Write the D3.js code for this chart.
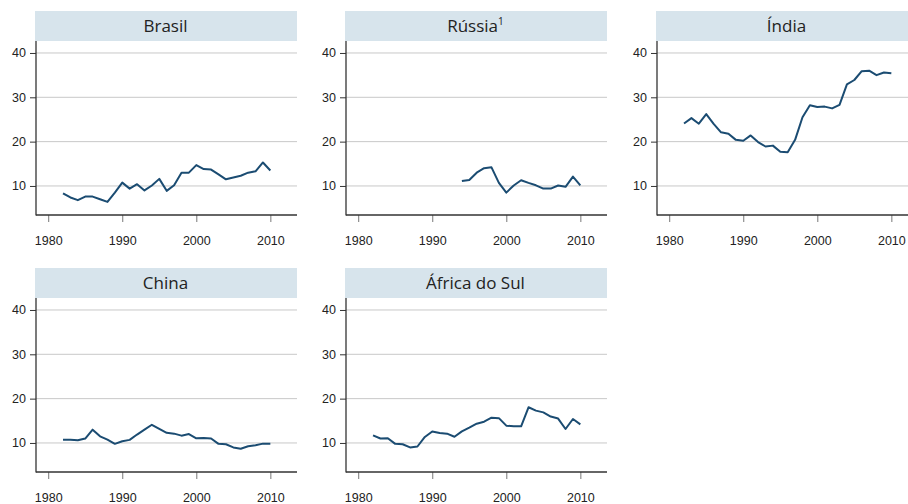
<!DOCTYPE html>
<html>
<head>
<meta charset="utf-8">
<script src="https://cdnjs.cloudflare.com/ajax/libs/d3/7.8.5/d3.min.js"></script>
<style>
  body { margin: 0; background: #fff; }
  svg { display: block; font-family: "Open Sans", "Noto Sans", sans-serif; }
</style>
</head>
<body>
<svg id="chart" width="908" height="504"></svg>
<script>
// values, one per year from the first year
var brasil = [8.35, 7.4, 6.8, 7.6, 7.6, 7.0, 6.4, 8.5, 10.75, 9.4, 10.4, 9.0, 10.1, 11.6, 8.9, 10.15,
  13.0, 13.0, 14.7, 13.8, 13.7, 12.6, 11.5, 11.9, 12.3, 13.0, 13.3, 15.3, 13.5];
var russia = [11.1, 11.35, 13.0, 14.0, 14.2, 10.7, 8.5, 10.1, 11.3, 10.7, 10.15, 9.4, 9.4, 10.1, 9.8, 12.1, 10.15];
var india = [24.1, 25.3, 24.05, 26.2, 24.0, 22.1, 21.8, 20.4, 20.2, 21.4, 19.9, 18.9, 19.1, 17.7, 17.6, 20.4,
  25.5, 28.2, 27.8, 27.9, 27.5, 28.3, 32.9, 33.9, 35.9, 36.0, 35.0, 35.6, 35.4];
var china = [10.75, 10.75, 10.6, 11.0, 13.0, 11.5, 10.75, 9.8, 10.4, 10.7, 11.9, 13.0, 14.1, 13.2, 12.3, 12.1,
  11.65, 12.0, 11.05, 11.1, 11.0, 9.8, 9.7, 9.0, 8.7, 9.25, 9.5, 9.85, 9.85];
var africaDoSul = [11.7, 11.0, 11.05, 9.8, 9.7, 9.0, 9.2, 11.35, 12.6, 12.25, 12.1, 11.4, 12.6, 13.45, 14.35, 14.8,
  15.7, 15.6, 13.9, 13.75, 13.75, 18.05, 17.3, 16.9, 15.95, 15.5, 13.15, 15.4, 14.2];

var countries = ['Brasil', 'Rússia', 'Índia', 'China', 'África do Sul'];
var firstYears = [1982, 1994, 1982, 1982, 1982];
var series = [brasil, russia, india, china, africaDoSul];
var notes = ['', '1', '', '', ''];

var xTicks = [1980, 1990, 2000, 2010];
var yTicks = [10, 20, 30, 40];

var svg = d3.select('#chart');

var colX = [36, 346, 657],
    rowY = [0, 257],
    plotW = 261,
    headTop = 11,
    plotTop = 41,
    plotBottom = 215;

var x = d3.scaleLinear().domain([1978.35, 2013.6]).range([0, plotW]);
var y = d3.scaleLinear().domain([3.45, 42.7]).range([plotBottom, plotTop]);

var line = d3.line()
  .x(function(d){ return x(d.year); })
  .y(function(d){ return y(d.value); });

countries.forEach(function(name, i){
  var g = svg.append('g')
    .attr('transform', 'translate(' + colX[i % 3] + ',' + rowY[Math.floor(i / 3)] + ')');

  // header box
  g.append('rect')
    .attr('x', -1).attr('y', headTop)
    .attr('width', plotW + 1).attr('height', plotTop - headTop)
    .attr('fill', '#d7e4ec');

  var title = g.append('text')
    .attr('x', plotW / 2 - 1).attr('y', 32)
    .attr('text-anchor', 'middle')
    .attr('font-size', 17)
    .attr('fill', '#222')
    .text(name);
  if(notes[i]){
    title.append('tspan')
      .attr('font-size', 10).attr('dy', -7)
      .text(notes[i]);
  }

  // gridlines
  g.append('g')
    .selectAll('line')
    .data(yTicks)
    .enter()
      .append('line')
        .attr('x1', 0).attr('x2', plotW)
        .attr('y1', function(d){ return y(d); })
        .attr('y2', function(d){ return y(d); })
        .attr('stroke', '#c8c8c8')
        .attr('stroke-width', 1);

  var yAxis = g.append('g')
    .call(d3.axisLeft(y).tickValues(yTicks).tickSize(6).tickPadding(4));
  yAxis.select('.domain').remove();
  yAxis.selectAll('.tick line').attr('stroke', '#333');
  yAxis.selectAll('text').attr('font-size', 12.5).attr('fill', '#222').attr('font-family', null);

  var xAxis = g.append('g')
    .attr('transform', 'translate(0,' + plotBottom + ')')
    .call(d3.axisBottom(x).tickValues(xTicks).tickFormat(d3.format('d')).tickSize(7).tickPadding(14));
  xAxis.select('.domain').remove();
  xAxis.selectAll('.tick line').attr('stroke', '#777');
  xAxis.selectAll('text').attr('font-size', 12.5).attr('fill', '#222').attr('font-family', null);

  // axis lines
  g.append('line')
    .attr('x1', 0).attr('x2', 0).attr('y1', plotTop).attr('y2', plotBottom + 0.5)
    .attr('stroke', '#333').attr('stroke-width', 1.3);
  g.append('line')
    .attr('x1', 0).attr('x2', plotW).attr('y1', plotBottom).attr('y2', plotBottom)
    .attr('stroke', '#333').attr('stroke-width', 1.3);

  var pts = series[i].map(function(v, k){ return {year: firstYears[i] + k, value: v}; });
  g.append('path')
    .datum(pts)
    .attr('d', line)
    .attr('fill', 'none')
    .attr('stroke', '#1b4c72')
    .attr('stroke-width', 2)
    .attr('stroke-linejoin', 'round');
});
</script>
</body>
</html>
